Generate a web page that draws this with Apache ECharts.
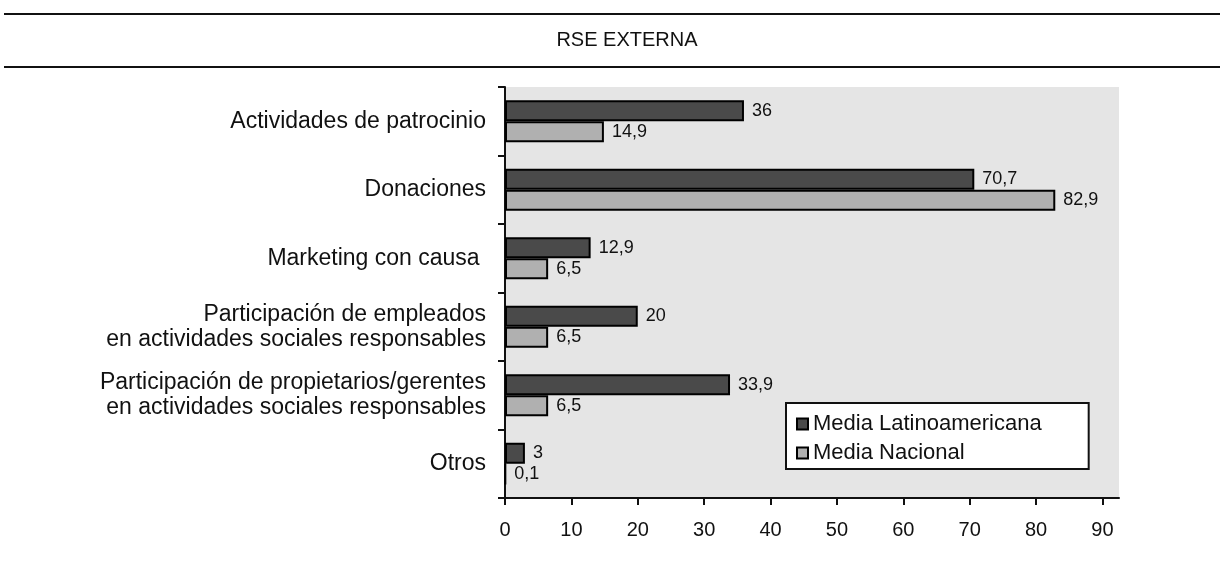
<!DOCTYPE html>
<html>
<head>
<meta charset="utf-8">
<script src="https://cdn.jsdelivr.net/npm/echarts@6.0.0/dist/echarts.min.js"></script>
<style>
  html, body { margin: 0; padding: 0; background: #fff; }
  #chart { width: 1220px; height: 561px; }
</style>
</head>
<body>
<div id="chart"></div>
<script>
  var categories = [
    'Actividades de patrocinio',
    'Donaciones',
    'Marketing con causa ',
    'Participación de empleados\nen actividades sociales responsables',
    'Participación de propietarios/gerentes\nen actividades sociales responsables',
    'Otros'
  ]
  var latinValues = [36, 70.7, 12.9, 20, 33.9, 3]
  var nacionalValues = [14.9, 82.9, 6.5, 6.5, 6.5, 0.1]
  var tickValues = [0, 10, 20, 30, 40, 50, 60, 70, 80, 90]

  var font = '"Liberation Sans", Arial, Helvetica, sans-serif'

  var chart = echarts.init(document.getElementById('chart'), null, { renderer: 'canvas' })

  function barLabel() {
    return {
      show: true,
      position: 'right',
      distance: 8,
      color: '#111',
      fontFamily: font,
      fontSize: 18,
      formatter: function (p) {
        return String(p.value).replace('.', ',')
      }
    }
  }

  chart.setOption({
    animation: false,
    textStyle: { fontFamily: font },
    title: {
      text: 'RSE EXTERNA',
      left: 622,
      textAlign: 'center',
      top: 25,
      textStyle: { fontFamily: font, fontSize: 20, fontWeight: 'normal', color: '#111' }
    },
    graphic: [
      { type: 'line', shape: { x1: 4, y1: 14, x2: 1220, y2: 14 }, style: { stroke: '#111', lineWidth: 2 } },
      { type: 'line', shape: { x1: 4, y1: 67, x2: 1220, y2: 67 }, style: { stroke: '#111', lineWidth: 2 } }
    ],
    legend: {
      orient: 'vertical',
      left: 786,
      top: 403,
      padding: [10, 47, 5, 10],
      itemGap: 7,
      itemWidth: 11,
      itemHeight: 11,
      icon: 'rect',
      backgroundColor: '#fff',
      borderColor: '#111',
      borderWidth: 2,
      textStyle: { fontFamily: font, fontSize: 22, color: '#111' },
      data: ['Media Latinoamericana', 'Media Nacional']
    },
    grid: {
      left: 505,
      right: 101,
      top: 87,
      bottom: 63,
      show: true,
      backgroundColor: '#e5e5e5',
      borderWidth: 0
    },
    xAxis: {
      type: 'value',
      min: 0,
      max: 92.5,
      interval: 10,
      splitLine: { show: false },
      axisLine: { show: true, lineStyle: { color: '#111', width: 2 } },
      axisTick: { show: true, length: 7, lineStyle: { color: '#111', width: 2 }, customValues: tickValues },
      axisLabel: { customValues: tickValues, margin: 22, color: '#111', fontFamily: font, fontSize: 20 }
    },
    yAxis: {
      type: 'category',
      inverse: true,
      data: categories,
      axisLine: { show: true, lineStyle: { color: '#111', width: 2 } },
      axisTick: { show: true, length: 7, lineStyle: { color: '#111', width: 2 } },
      axisLabel: {
        margin: 19, color: '#111', fontFamily: font, fontSize: 23, lineHeight: 25,
        align: 'right', padding: [6, 0, 0, 0]
      }
    },
    series: [
      {
        name: 'Media Latinoamericana',
        type: 'bar',
        barWidth: 21,
        barGap: '0%',
        data: latinValues,
        itemStyle: { color: '#4a4a4a', borderColor: '#000', borderWidth: 2 },
        label: barLabel()
      },
      {
        name: 'Media Nacional',
        type: 'bar',
        barWidth: 21,
        barGap: '0%',
        data: nacionalValues,
        itemStyle: { color: '#b0b0b0', borderColor: '#000', borderWidth: 2 },
        label: barLabel()
      }
    ]
  })
</script>
</body>
</html>
